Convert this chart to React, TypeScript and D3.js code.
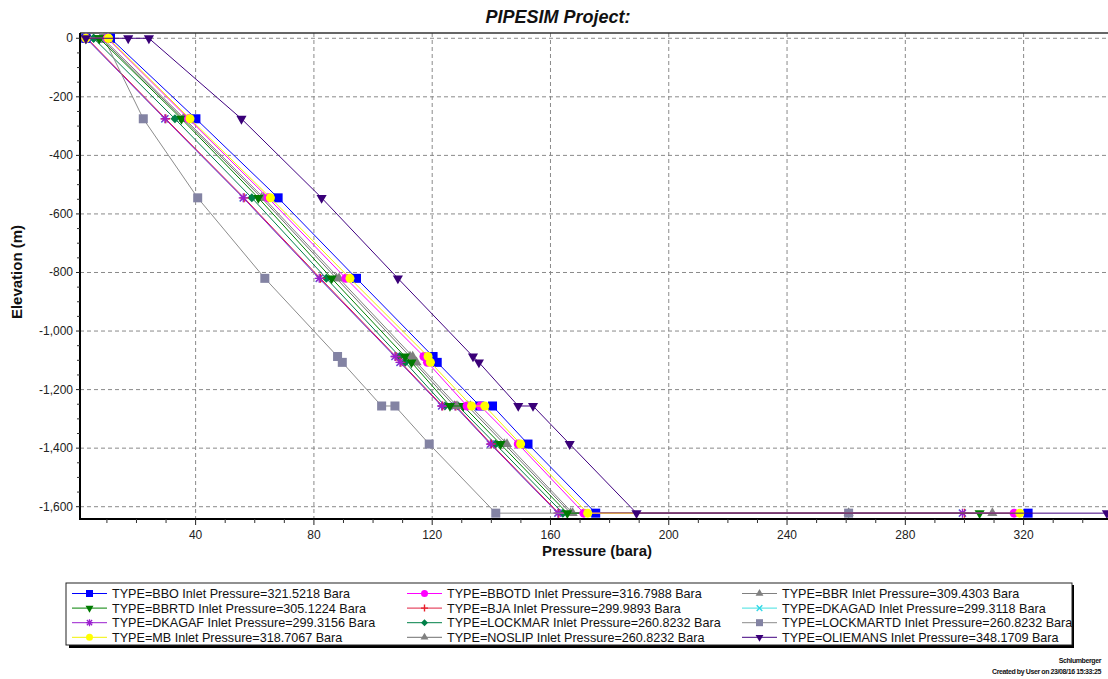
import React from 'react';
import * as d3 from 'd3';

// ---------- data ----------
const elevations = [0, 0, 0, -275, -545, -820, -1087, -1107, -1256, -1256, -1386, -1622, -1622];

const seriesNames = ['BBO', 'BBOTD', 'BBR', 'BBRTD', 'BJA', 'DKAGAD', 'DKAGAF', 'LOCKMAR', 'LOCKMARTD', 'MB', 'NOSLIP', 'OLIEMANS'];
const inletLabels = ['321.5218', '316.7988', '309.4303', '305.1224', '299.9893', '299.3118', '299.3156', '260.8232', '260.8232', '318.7067', '260.8232', '348.1709'];

const pBBO = [2.9, 11.2, 11.2, 40.1, 67.9, 94.4, 120.3, 121.7, 136.1, 140.4, 152.4, 175.3, 321.5218];
const pBBOTD = [2.9, 10.2, 10.2, 37.6, 64.5, 90.8, 117.2, 118.4, 131.8, 136.3, 149.1, 171.3, 316.7988];
const pBBR = [2.9, 8.6, 8.6, 36.3, 63.0, 88.5, 113.4, 114.7, 128.4, 132.9, 145.3, 167.5, 309.4303];
const pBBRTD = [2.9, 7.4, 7.4, 35.2, 61.2, 86.0, 110.8, 113.0, 126.0, 130.5, 143.1, 165.7, 305.1224];
const pBJA = [2.9, 3.3, 3.3, 29.9, 56.4, 82.2, 107.7, 109.4, 123.5, 128.0, 140.0, 162.8, 299.9893];
const pDKAGAD = [2.9, 3.0, 3.0, 29.6, 56.1, 81.8, 107.4, 109.1, 123.2, 127.7, 139.7, 162.5, 299.3118];
const pDKAGAF = [2.9, 3.0, 3.0, 29.6, 56.1, 81.8, 107.4, 109.1, 123.2, 127.7, 139.7, 162.5, 299.3156];
const pLOCKMAR = [2.9, 5.5, 5.5, 33.0, 59.0, 84.2, 109.0, 110.9, 124.3, 128.8, 141.4, 164.2, 260.8232];
const pLOCKMARTD = [2.9, 9.0, 9.0, 22.3, 40.7, 63.4, 88.0, 89.6, 102.9, 107.4, 119.0, 141.5, 260.8232];
const pMB = [2.9, 10.5, 10.5, 38.1, 65.3, 92.2, 118.6, 119.4, 133.3, 137.8, 149.9, 172.6, 318.7067];
const pNOSLIP = [2.9, 8.0, 8.0, 35.8, 62.3, 87.6, 112.5, 113.9, 127.5, 132.0, 144.4, 166.8, 260.8232];
const pOLIEMANS = [2.9, 17.2, 24.2, 55.5, 82.6, 108.4, 133.8, 135.8, 149.1, 154.1, 166.5, 189.1, 348.1709];

const pressures = [pBBO, pBBOTD, pBBR, pBBRTD, pBJA, pDKAGAD, pDKAGAF, pLOCKMAR, pLOCKMARTD, pMB, pNOSLIP, pOLIEMANS];

const lineColors = ['#0000FF', '#FF00FF', '#808080', '#008000', '#E02040', '#40E0E0', '#9A1FCF', '#008048', '#8C8C8C', '#F2F200', '#707070', '#400080'];
const markerColors = ['#0000FF', '#FF00FF', '#808080', '#007A00', '#E8202A', '#30D8E8', '#9A1FCF', '#008048', '#8383A3', '#FFFF00', '#808080', '#3A0078'];
const markerShapes = ['square', 'circle', 'triUp', 'triDown', 'plus', 'x', 'asterisk', 'diamond', 'square', 'circle', 'triUp', 'triDown'];

const drawOrder = [5, 10, 7, 4, 6, 8, 2, 3, 0, 1, 9, 11];

const xTicks = [40, 80, 120, 160, 200, 240, 280, 320];
const yTicks = [0, -200, -400, -600, -800, -1000, -1200, -1400, -1600];

// ---------- layout ----------
const W = 1108;
const H = 679;
const plotL = 80;
const plotR = 1107;
const plotT = 33;
const plotB = 519;

const FONT = '"Liberation Sans", Arial, sans-serif';

function Marker({ shape, color, x, y, s }: { shape: string; color: string; x: number; y: number; s: number }) {
  const r = s / 2;
  if (shape === 'square') {
    return <rect x={x - r} y={y - r} width={s} height={s} fill={color} />;
  }
  if (shape === 'circle') {
    return <circle cx={x} cy={y} r={r} fill={color} />;
  }
  if (shape === 'triUp' || shape === 'triDown') {
    const p = d3.symbol(d3.symbolTriangle, s * s * 0.55)();
    return <path d={p || ''} fill={color} transform={`translate(${x},${y})${shape === 'triDown' ? ' rotate(180)' : ''}`} />;
  }
  if (shape === 'diamond') {
    return <path d={`M${x},${y - r}L${x + r},${y}L${x},${y + r}L${x - r},${y}Z`} fill={color} />;
  }
  if (shape === 'plus') {
    return <path d={`M${x - r},${y}H${x + r}M${x},${y - r}V${y + r}`} stroke={color} strokeWidth={1.4} fill="none" />;
  }
  if (shape === 'x') {
    const q = r * 0.8;
    return <path d={`M${x - q},${y - q}L${x + q},${y + q}M${x - q},${y + q}L${x + q},${y - q}`} stroke={color} strokeWidth={1.4} fill="none" />;
  }
  // asterisk
  const q = r * 0.75;
  return (
    <path
      d={`M${x - r},${y}H${x + r}M${x},${y - r}V${y + r}M${x - q},${y - q}L${x + q},${y + q}M${x - q},${y + q}L${x + q},${y - q}`}
      stroke={color}
      strokeWidth={1.3}
      fill="none"
    />
  );
}

export default function App() {
  const x = d3.scaleLinear().domain([0.9, 348.2]).range([plotL, plotR]);
  const y = d3.scaleLinear().domain([-1642, 18]).range([plotB, plotT]);

  const line = d3
    .line<[number, number]>()
    .x((d) => x(d[0]))
    .y((d) => y(d[1]));

  const minorX = d3.range(10, 350, 10).filter((v) => v % 40 !== 0);
  const minorY = d3.range(0, -1650, -50).filter((v) => v % 200 !== 0);

  const legendX0 = 72;
  const legendColW = 335;
  const legendY0 = 593.5;
  const legendRowH = 14.6;

  return (
    <svg width={W} height={H} style={{ position: 'absolute', left: 0, top: 0, background: '#fff' }} fontFamily={FONT}>
      <rect x={0} y={0} width={W} height={H} fill="#fff" />
      {/* title */}
      <text x={558} y={23} textAnchor="middle" fontSize={18} fontWeight="bold" fontStyle="italic" fill="#111">
        PIPESIM Project:
      </text>

      <defs>
        <clipPath id="plotclip">
          <rect x={plotL} y={plotT - 6} width={W - plotL} height={plotB - plotT + 6} />
        </clipPath>
      </defs>

      {/* grid */}
      {xTicks.map((t) => (
        <line key={'gx' + t} x1={x(t)} x2={x(t)} y1={plotT} y2={plotB} stroke="#8a8a8a" strokeWidth={1} strokeDasharray="4,3" />
      ))}
      {yTicks.map((t) => (
        <line key={'gy' + t} x1={plotL} x2={W} y1={y(t)} y2={y(t)} stroke="#8a8a8a" strokeWidth={1} strokeDasharray="4,3" />
      ))}
      {/* top border */}
      <line x1={plotL} x2={W} y1={plotT} y2={plotT} stroke="#333" strokeWidth={1.3} />

      {/* series */}
      <g clipPath="url(#plotclip)">
        {drawOrder.map((i) => {
          const pts: [number, number][] = pressures[i].map((p, k) => [p, elevations[k]]);
          return (
            <g key={'s' + i}>
              <path d={line(pts) || ''} fill="none" stroke={lineColors[i]} strokeWidth={1} />
              {pts.map((d, k) => (
                <Marker key={k} shape={markerShapes[i]} color={markerColors[i]} x={x(d[0])} y={y(d[1])} s={9} />
              ))}
            </g>
          );
        })}
      </g>

      {/* axes */}
      <line x1={plotL} x2={plotL} y1={plotT} y2={plotB + 1} stroke="#000" strokeWidth={2} />
      <line x1={plotL - 1} x2={W} y1={plotB} y2={plotB} stroke="#000" strokeWidth={2} />
      {xTicks.map((t) => (
        <g key={'xt' + t}>
          <line x1={x(t)} x2={x(t)} y1={plotB} y2={plotB + 6} stroke="#222" strokeWidth={1} />
          <text x={x(t)} y={plotB + 20} textAnchor="middle" fontSize={12} fill="#222">
            {t}
          </text>
        </g>
      ))}
      {minorX.map((t) => (
        <line key={'mx' + t} x1={x(t)} x2={x(t)} y1={plotB} y2={plotB + 4} stroke="#333" strokeWidth={1} />
      ))}
      {yTicks.map((t) => (
        <g key={'yt' + t}>
          <line x1={plotL - 4} x2={plotL} y1={y(t)} y2={y(t)} stroke="#222" strokeWidth={1} />
          <text x={plotL - 7} y={y(t) + 4} textAnchor="end" fontSize={12} fill="#222">
            {d3.format(',')(t).replace('−', '-')}
          </text>
        </g>
      ))}
      {minorY.map((t) => (
        <line key={'my' + t} x1={plotL - 3} x2={plotL} y1={y(t)} y2={y(t)} stroke="#333" strokeWidth={1} />
      ))}

      {/* axis titles */}
      <text x={597} y={556} textAnchor="middle" fontSize={15} fontWeight="bold" fill="#111">
        Pressure (bara)
      </text>
      <text transform="translate(22,272) rotate(-90)" textAnchor="middle" fontSize={15} fontWeight="bold" fill="#111">
        Elevation (m)
      </text>

      {/* legend */}
      <rect x={69} y={585} width={1005} height={63} fill="#000" />
      <rect x={66} y={583} width={1006} height={62} fill="#fff" stroke="#222" strokeWidth={1} />
      {seriesNames.map((name, i) => {
        const col = i % 3;
        const row = Math.floor(i / 3);
        const lx = legendX0 + col * legendColW;
        const ly = legendY0 + row * legendRowH;
        return (
          <g key={'lg' + i}>
            <line x1={lx} x2={lx + 35} y1={ly} y2={ly} stroke={lineColors[i]} strokeWidth={1} />
            <Marker shape={markerShapes[i]} color={markerColors[i]} x={lx + 17.5} y={ly} s={7} />
            <text x={lx + 40} y={ly + 4.5} fontSize={12.6} fill="#111">
              {`TYPE=${name} Inlet Pressure=${inletLabels[i]} Bara`}
            </text>
          </g>
        );
      })}

      {/* footer */}
      <text x={1101} y={663} textAnchor="end" fontSize={7} fontWeight="bold" fill="#111" letterSpacing={-0.4}>
        Schlumberger
      </text>
      <text x={1101} y={674} textAnchor="end" fontSize={7} fontWeight="bold" fill="#111" letterSpacing={-0.4}>
        Created by User on 23/08/16 15:33:25
      </text>
    </svg>
  );
}
